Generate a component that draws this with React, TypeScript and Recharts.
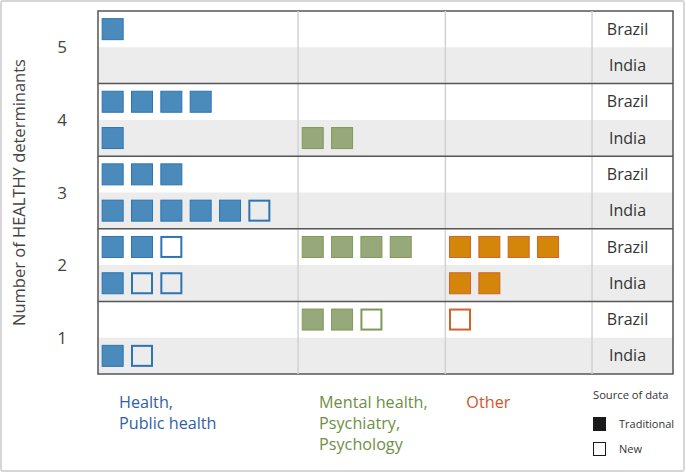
import React from 'react';
import {
  ScatterChart,
  Scatter,
  XAxis,
  YAxis,
  ReferenceArea,
  ReferenceLine,
  Legend,
} from 'recharts';

// ---------- DATA ----------
// index 0..4 => number of HEALTHY determinants 1..5
const determinants = [1, 2, 3, 4, 5];
const countries = ['Brazil', 'India'];

const brazilHealthTraditional = [0, 2, 3, 4, 1];
const brazilHealthNew = [0, 1, 0, 0, 0];
const indiaHealthTraditional = [1, 1, 5, 1, 0];
const indiaHealthNew = [1, 2, 1, 0, 0];

const brazilMentalTraditional = [2, 4, 0, 0, 0];
const brazilMentalNew = [1, 0, 0, 0, 0];
const indiaMentalTraditional = [0, 0, 0, 2, 0];
const indiaMentalNew = [0, 0, 0, 0, 0];

const brazilOtherTraditional = [0, 4, 0, 0, 0];
const brazilOtherNew = [1, 0, 0, 0, 0];
const indiaOtherTraditional = [0, 2, 0, 0, 0];
const indiaOtherNew = [0, 0, 0, 0, 0];

const healthLabel = ['Health,', 'Public health'];
const mentalLabel = ['Mental health,', 'Psychiatry,', 'Psychology'];
const otherLabel = ['Other'];
const legendTitle = 'Source of data';
const legendItems = ['Traditional', 'New'];
const yTitle = 'Number of HEALTHY determinants';

// ---------- LAYOUT / STYLE ----------
const X_MAX = 19.6;
const colStarts = [0, 6.82, 11.84];
const countryColStart = 16.84;
const countryLabelX = 18.05;
const FONT = '"Open Sans", Lato, sans-serif';

const catStyles = [
  { fill: '#4a8bbb', stroke: '#2d74b3', text: '#2f5fa8' },
  { fill: '#97a87a', stroke: '#7f9a58', text: '#6e8f45' },
  { fill: '#d4860a', stroke: '#d4612a', text: '#d0562a' },
];

type Pt = { x: number; y: number; kind: string };

function rowY(detIdx: number, country: string) {
  return detIdx * 2 + (country === 'Brazil' ? 1.5 : 0.5);
}

function buildPoints(
  catIdx: number,
  bT: number[],
  bN: number[],
  iT: number[],
  iN: number[]
): Pt[] {
  const pts: Pt[] = [];
  determinants.forEach((_, d) => {
    countries.forEach((c) => {
      const t = c === 'Brazil' ? bT[d] : iT[d];
      const n = c === 'Brazil' ? bN[d] : iN[d];
      let i = 0;
      for (let k = 0; k < t; k++, i++)
        pts.push({ x: colStarts[catIdx] + 0.5 + i, y: rowY(d, c), kind: 'traditional' });
      for (let k = 0; k < n; k++, i++)
        pts.push({ x: colStarts[catIdx] + 0.5 + i, y: rowY(d, c), kind: 'new' });
    });
  });
  return pts;
}

const healthPoints = buildPoints(0, brazilHealthTraditional, brazilHealthNew, indiaHealthTraditional, indiaHealthNew);
const mentalPoints = buildPoints(1, brazilMentalTraditional, brazilMentalNew, indiaMentalTraditional, indiaMentalNew);
const otherPoints = buildPoints(2, brazilOtherTraditional, brazilOtherNew, indiaOtherTraditional, indiaOtherNew);

const countryPoints = determinants.flatMap((_, d) =>
  countries.map((c) => ({ x: countryLabelX, y: rowY(d, c), name: c }))
);

const catLabels = [healthLabel, mentalLabel, otherLabel];

const makeSquare = (catIdx: number) => (p: any) => {
  const { cx, cy, payload } = p;
  const st = catStyles[catIdx];
  if (payload.kind === 'new') {
    return (
      <rect x={cx - 10} y={cy - 10} width={20} height={20} fill="none" stroke={st.stroke} strokeWidth={2} />
    );
  }
  return (
    <rect x={cx - 10.5} y={cy - 10.5} width={21} height={21} fill={st.fill} stroke={st.stroke} strokeWidth={1} />
  );
};

const CountryLabel = (p: any) => (
  <text
    x={p.cx}
    y={p.cy}
    dy="0.35em"
    textAnchor="middle"
    fontFamily={FONT}
    fontSize={16}
    fill="#333"
  >
    {p.payload.name}
  </text>
);

const CatTick = (p: any) => {
  const idx = colStarts.indexOf(p.payload.value);
  const lines = catLabels[idx] || [];
  const st = catStyles[idx] || catStyles[0];
  return (
    <text x={p.x + 21} y={p.y + 34} fontFamily={FONT} fontSize={16.2} fill={st.text}>
      {lines.map((l, i) => (
        <tspan key={i} x={p.x + 21} dy={i === 0 ? 0 : 21}>
          {l}
        </tspan>
      ))}
    </text>
  );
};

const YTitle = (p: any) => {
  const vb = p.viewBox || { x: 0, y: 11, width: 98, height: 363 };
  const cy = vb.y + vb.height / 2;
  const cx = 18;
  return (
    <text
      x={cx}
      y={cy}
      transform={`rotate(-90, ${cx}, ${cy})`}
      textAnchor="middle"
      dominantBaseline="central"
      fontFamily={FONT}
      fontSize={16.5}
      fill="#444"
    >
      {yTitle}
    </text>
  );
};

const LegendContent = () => (
  <div style={{ position: 'relative', width: 95, height: 80, fontFamily: FONT, color: '#333' }}>
    <div style={{ position: 'absolute', left: 5, top: 3, fontSize: 11.2, whiteSpace: 'nowrap' }}>{legendTitle}</div>
    <div style={{ position: 'absolute', left: 5, top: 33, width: 13, height: 14, background: '#1a1a1a' }} />
    <div style={{ position: 'absolute', left: 31, top: 32, fontSize: 11 }}>{legendItems[0]}</div>
    <div
      style={{
        position: 'absolute',
        left: 5,
        top: 58,
        width: 13,
        height: 14,
        boxSizing: 'border-box',
        border: '1.5px solid #1a1a1a',
        background: '#fff',
      }}
    />
    <div style={{ position: 'absolute', left: 31, top: 57, fontSize: 11 }}>{legendItems[1]}</div>
  </div>
);

export default function App() {
  return (
    <div style={{ position: 'absolute', left: 0, top: 0, width: 685, height: 472, background: '#fff', fontFamily: FONT }}>
      <div
        style={{
          position: 'absolute',
          left: 0,
          top: 0,
          width: 685,
          height: 472,
          boxSizing: 'border-box',
          border: '2px solid #d6d6d6',
          borderRadius: 3,
        }}
      />
      <div style={{ position: 'absolute', left: 0, top: 0 }}>
        <ScatterChart width={685} height={472} margin={{ top: 11, right: 12, bottom: 0, left: 0 }}>
          <XAxis
            type="number"
            dataKey="x"
            domain={[0, X_MAX]}
            ticks={colStarts}
            interval={0}
            axisLine={false}
            tickLine={false}
            tickSize={0}
            tickMargin={0}
            height={98}
            tick={<CatTick />}
            allowDataOverflow
          />
          <YAxis
            type="number"
            dataKey="y"
            domain={[0, 10]}
            ticks={[1, 3, 5, 7, 9]}
            interval={0}
            tickFormatter={(v: number) => String((v + 1) / 2)}
            axisLine={false}
            tickLine={false}
            tickSize={0}
            tickMargin={31}
            width={98}
            tick={{ fontSize: 17, fill: '#444', fontFamily: FONT }}
            label={<YTitle />}
          />
          {determinants.map((_, d) => (
            <ReferenceArea
              key={'band' + d}
              x1={0}
              x2={X_MAX}
              y1={d * 2}
              y2={d * 2 + 1}
              fill="#ececec"
              fillOpacity={1}
              stroke="none"
            />
          ))}
          {[...colStarts.slice(1), countryColStart].map((x) => (
            <ReferenceLine key={'v' + x} x={x} stroke="#d2d2d2" strokeWidth={1.5} />
          ))}
          {[2, 4, 6, 8].map((y) => (
            <ReferenceLine key={'h' + y} y={y} stroke="#555" strokeWidth={1.5} />
          ))}
          <ReferenceArea x1={0} x2={X_MAX} y1={0} y2={10} fill="none" stroke="#555" strokeWidth={1.5} />
          <Scatter data={healthPoints} shape={makeSquare(0)} isAnimationActive={false} />
          <Scatter data={mentalPoints} shape={makeSquare(1)} isAnimationActive={false} />
          <Scatter data={otherPoints} shape={makeSquare(2)} isAnimationActive={false} />
          <Scatter data={countryPoints} shape={CountryLabel} isAnimationActive={false} />
          <Legend
            layout="vertical"
            align="center"
            verticalAlign="middle"
            content={<LegendContent />}
            wrapperStyle={{ position: 'absolute', left: 588, top: 384, width: 95, height: 80 }}
          />
        </ScatterChart>
      </div>
    </div>
  );
}
